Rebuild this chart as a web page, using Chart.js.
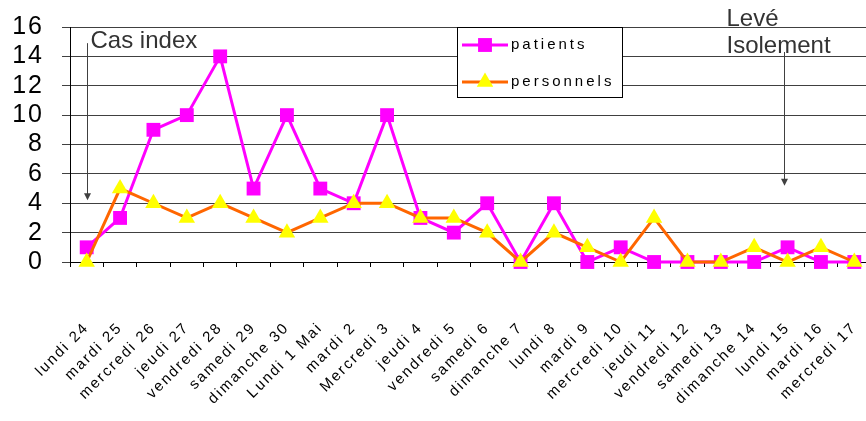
<!DOCTYPE html>
<html>
<head>
<meta charset="utf-8">
<script src="https://cdn.jsdelivr.net/npm/chart.js@4.4.0/dist/chart.umd.min.js"></script>
<style>
  html, body { margin: 0; padding: 0; background: #fff; overflow: hidden; }
  canvas { display: block; }
</style>
</head>
<body>
<canvas id="chart" width="872" height="421"></canvas>
<script>
const jours = ['lundi 24', 'mardi 25', 'mercredi 26', 'jeudi 27', 'vendredi 28', 'samedi 29',
    'dimanche 30', 'Lundi 1 Mai', 'mardi 2', 'Mercredi 3', 'jeudi 4', 'vendredi 5', 'samedi 6',
    'dimanche 7', 'lundi 8', 'mardi 9', 'mercredi 10', 'jeudi 11', 'vendredi 12', 'samedi 13',
    'dimanche 14', 'lundi 15', 'mardi 16', 'mercredi 17'];
const patients   = [1, 3, 9, 10, 14, 5, 10, 5, 4, 10, 3, 2, 4, 0, 4, 0, 1, 0, 0, 0, 0, 1, 0, 0];
const personnels = [0, 5, 4, 3, 4, 3, 2, 3, 4, 4, 3, 3, 2, 0, 2, 1, 0, 3, 0, 0, 1, 0, 1, 0];
const yMin = 0, yMax = 16, yStep = 2;

const SANS = "'Liberation Sans', Arial, sans-serif";

// espacement des lettres pour les axes
const spacingPlugin = {
    id: 'spacing',
    beforeDraw(chart) { chart.ctx.letterSpacing = '2px'; }
};

// légende encadrée dans la zone du graphique
const boxLegend = {
    id: 'boxLegend',
    afterDraw(chart) {
        const ctx = chart.ctx;
        ctx.save();
        ctx.letterSpacing = '3px';
        ctx.fillStyle = '#fff';
        ctx.strokeStyle = '#000';
        ctx.lineWidth = 1;
        ctx.fillRect(457.5, 27.5, 165, 70);
        ctx.strokeRect(457.5, 27.5, 165, 70);
        chart.data.datasets.forEach((ds, i) => {
            const y = 45 + i * 37;
            ctx.strokeStyle = ds.borderColor;
            ctx.lineWidth = 3;
            ctx.beginPath();
            ctx.moveTo(462, y);
            ctx.lineTo(508, y);
            ctx.stroke();
            ctx.fillStyle = ds.pointBackgroundColor;
            Chart.helpers.drawPoint(ctx, { pointStyle: ds.pointStyle, radius: ds.pointRadius, rotation: 0, borderWidth: 0 }, 485, y);
            ctx.fillStyle = '#000';
            ctx.font = '15px ' + SANS;
            ctx.textBaseline = 'middle';
            ctx.textAlign = 'left';
            ctx.fillText(ds.label, 511, y);
        });
        ctx.restore();
    }
};

// flèches et textes d'annotation
const notes = {
    id: 'notes',
    afterDraw(chart) {
        const ctx = chart.ctx;
        const xs = chart.scales.x, ys = chart.scales.y;
        function arrow(x, y1, y2) {
            ctx.strokeStyle = '#404040';
            ctx.fillStyle = '#404040';
            ctx.lineWidth = 1;
            ctx.beginPath();
            ctx.moveTo(x, y1);
            ctx.lineTo(x, y2 - 6);
            ctx.stroke();
            ctx.beginPath();
            ctx.moveTo(x - 3.5, y2 - 7);
            ctx.lineTo(x + 3.5, y2 - 7);
            ctx.lineTo(x, y2);
            ctx.closePath();
            ctx.fill();
        }
        ctx.save();
        ctx.letterSpacing = '0px';
        ctx.font = '24px ' + SANS;
        ctx.textAlign = 'left';
        ctx.textBaseline = 'alphabetic';

        const a1 = Math.round(xs.getPixelForValue(0)) + 0.5;
        arrow(a1, ys.getPixelForValue(14.9), ys.getPixelForValue(4.2));
        ctx.fillStyle = '#333';
        ctx.fillText('Cas index', a1 + 3, 48);

        const a2 = Math.round(xs.getPixelForValue(21)) - 3.5;
        arrow(a2, ys.getPixelForValue(14.3), ys.getPixelForValue(5.2));
        ctx.fillStyle = '#333';
        ctx.fillText('Levé', a2 - 58, 26);
        ctx.fillText('Isolement', a2 - 58, 53);
        ctx.restore();
    }
};

new Chart(document.getElementById('chart'), {
    type: 'line',
    data: {
        labels: jours,
        datasets: [
            {
                label: 'patients', data: patients, order: 2,
                borderColor: '#ff00ff', borderWidth: 3,
                pointStyle: 'rect', pointRadius: 9.8, pointBorderWidth: 0,
                pointBackgroundColor: '#ff00ff', tension: 0, clip: false
            },
            {
                label: 'personnels', data: personnels, order: 1,
                borderColor: '#ff6600', borderWidth: 3,
                pointStyle: 'triangle', pointRadius: 9.5, pointBorderWidth: 0,
                pointBackgroundColor: '#ffff00', tension: 0, clip: false
            }
        ]
    },
    options: {
        responsive: false,
        animation: false,
        layout: { autoPadding: false, padding: { top: 27, right: 1, left: 0, bottom: 0 } },
        plugins: {
            legend: { display: false },
            tooltip: { enabled: false }
        },
        scales: {
            x: {
                offset: true,
                grid: { offset: true, drawOnChartArea: false, color: '#000', tickLength: 5 },
                border: { color: '#000', width: 1 },
                ticks: {
                    autoSkip: false, maxRotation: 45, minRotation: 45, padding: 52,
                    color: '#000', font: { family: SANS, size: 15 }
                },
                afterFit(scale) {
                    scale.height = 159;
                    scale.paddingLeft = 0;
                    scale.paddingRight = 0;
                }
            },
            y: {
                min: yMin, max: yMax,
                grid: { color: '#404040', tickLength: 8 },
                border: { color: '#000', width: 1 },
                ticks: {
                    stepSize: yStep, autoSkip: false, padding: 18, color: '#000',
                    font: { family: SANS, size: 25 }
                },
                afterFit(scale) {
                    scale.width = 70;
                    scale.paddingTop = 0;
                    scale.paddingBottom = 0;
                }
            }
        }
    },
    plugins: [spacingPlugin, boxLegend, notes]
});
</script>
</body>
</html>
